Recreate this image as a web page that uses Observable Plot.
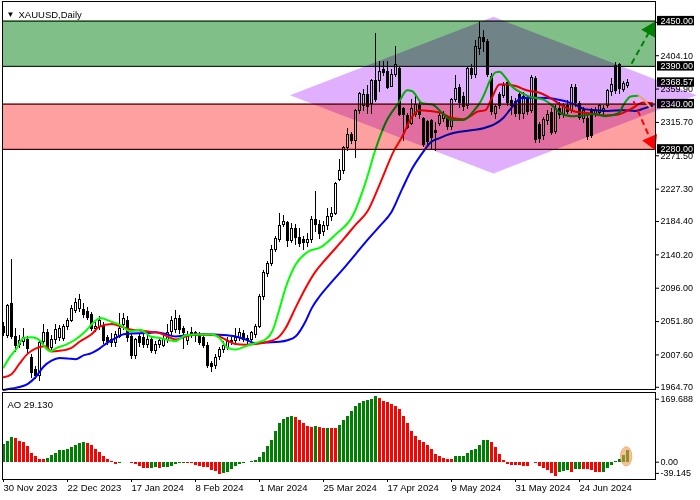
<!DOCTYPE html>
<html><head><meta charset="utf-8">
<script src="https://cdn.jsdelivr.net/npm/d3@7"></script>
<script src="https://cdn.jsdelivr.net/npm/@observablehq/plot@0.6"></script>
<style>
body{margin:0;background:#fff;width:700px;height:500px;overflow:hidden}
#chart svg{display:block}
</style></head><body><div id="chart"></div>
<script>
// ---------- DATA (bar index 0 = 30 Nov 2023) ----------
const opens  = [2044,2033,2075,2031,2021,2025,2027,2003,1988,1980,2025,2036,2017,2027,2030,2029,2045,2052,2066,2069,2067,2065,2060,2042,2044,2046,2030,2027,2024,2032,2047,2052,2031,2006,2032,2030,2021,2028,2013,2021,2020,2027,2038,2040,2055,2042,2026,2035,2036,2033,2030,2020,1995,1993,2005,2014,2017,2026,2026,2030,2035,2029,2028,2034,2045,2084,2115,2128,2147,2160,2180,2182,2159,2175,2163,2160,2156,2160,2187,2180,2170,2178,2190,2195,2240,2251,2282,2299,2291,2331,2338,2352,2340,2371,2371,2385,2383,2363,2379,2387,2334,2324,2313,2326,2338,2320,2316,2318,2305,2313,2320,2322,2309,2346,2361,2350,2337,2386,2378,2413,2428,2422,2376,2327,2352,2351,2368,2344,2343,2352,2327,2348,2331,2373,2312,2298,2318,2328,2303,2334,2326,2337,2331,2361,2340,2320,2320,2331,2326,2328,2330,2338,2356,2390,2392,2359,2364];
const highs  = [2050,2074,2134,2042,2034,2042,2032,2008,1992,2027,2048,2041,2033,2048,2046,2048,2056,2073,2082,2088,2076,2070,2064,2050,2058,2050,2033,2036,2039,2062,2062,2058,2036,2030,2036,2035,2034,2031,2026,2030,2033,2048,2058,2066,2060,2045,2038,2044,2039,2037,2035,2024,1999,2008,2018,2025,2031,2031,2042,2042,2040,2034,2038,2048,2088,2120,2132,2152,2165,2195,2193,2185,2182,2180,2175,2165,2168,2191,2224,2186,2185,2202,2203,2236,2266,2284,2308,2302,2333,2356,2360,2364,2373,2433,2397,2397,2397,2386,2417,2388,2336,2328,2346,2351,2345,2322,2318,2320,2315,2328,2330,2325,2348,2378,2366,2356,2388,2392,2424,2450,2437,2426,2380,2340,2356,2368,2373,2350,2348,2357,2355,2352,2378,2376,2316,2322,2331,2334,2338,2342,2341,2345,2366,2366,2344,2335,2323,2334,2336,2340,2338,2360,2374,2395,2394,2370,2372];
const lows   = [2032,2030,2028,2011,2016,2019,2010,1977,1975,1972,2022,2014,2012,2022,2025,2025,2040,2050,2062,2064,2056,2053,2038,2037,2040,2022,2020,2018,2017,2029,2040,2024,2002,2001,2018,2016,2016,2009,2008,2016,2017,2023,2033,2036,2035,2015,2020,2030,2024,2020,2016,1990,1984,1988,2000,2010,2014,2020,2022,2026,2024,2022,2025,2030,2043,2080,2110,2125,2143,2157,2176,2150,2155,2152,2150,2146,2150,2155,2170,2160,2165,2172,2185,2192,2237,2247,2277,2286,2268,2326,2330,2326,2326,2342,2355,2377,2359,2362,2375,2324,2291,2306,2311,2322,2320,2283,2284,2278,2277,2310,2315,2305,2305,2342,2334,2330,2333,2372,2374,2405,2408,2375,2325,2320,2333,2347,2337,2325,2322,2318,2320,2325,2328,2288,2288,2292,2312,2298,2300,2320,2321,2326,2328,2336,2318,2314,2292,2294,2322,2324,2325,2334,2350,2353,2353,2355,2361];
const closes = [2036,2072,2031,2020,2026,2030,2015,1983,1980,2024,2036,2017,2028,2040,2042,2045,2052,2068,2077,2080,2060,2057,2042,2045,2052,2026,2025,2024,2034,2042,2055,2030,2006,2027,2023,2021,2028,2013,2021,2026,2028,2037,2052,2055,2040,2036,2031,2037,2033,2024,2020,1993,1992,2004,2014,2020,2025,2024,2030,2036,2028,2027,2036,2044,2084,2116,2128,2147,2161,2179,2184,2159,2175,2162,2155,2156,2160,2186,2180,2168,2178,2190,2195,2234,2252,2282,2299,2291,2331,2353,2352,2336,2371,2345,2383,2381,2362,2379,2392,2326,2326,2308,2333,2339,2325,2286,2290,2295,2302,2324,2326,2309,2346,2360,2342,2336,2386,2378,2416,2427,2422,2379,2330,2336,2338,2364,2341,2337,2327,2327,2349,2330,2375,2293,2294,2319,2326,2302,2333,2326,2337,2330,2362,2342,2322,2331,2296,2298,2331,2337,2334,2357,2365,2357,2360,2366,2368.57];

const aoValues = [45,52,63,60,53,51,40,22,14,7, 6.5,9,16,23,30,31,33,38,43,49, 51,49,42,33,24,15,7,2,-5,-4,
  -2,-1,-4,-7,-10,-15,-16,-15,-14,-15, -14.5,-14,-12,-6,-3,-2.5,-4,-4.5,-9,-11, -13,-14,-21,-24,-31,-28,-26,-19,-10,-7,
  -4,-1,2,4,11,26,40,57,78,100, 111,115,117,115,107,99,92,90,92,89, 87,87.5,86,85.5,95,107,118,131,144,150,
  156,159,161,169.688,163,156,153,148,143,135, 117,100,80,67,56,50,43,33,20,15, 10,8,7,14,14.5,15,22,29,33,43,
  56,57,51,39,21,4,-5,-8,-9,-9.5, -11,-11.5,-2,-4,-12,-17,-22,-30,-36,-27, -24,-21,-26,-19,-18.5,-19,-19.5,-22,-26,-27,
  -26,-15,-9,0.5,7,17,29.13];

// Alligator lines: [bar index, price]
const jawLine = [[0,1961],[2,1963],[4,1965],[6,1969],[8,1978],[10,1992],[12,2000],[14,2003.5],[16,2003],[18,2002],[20,2007],[22,2010],[24,2016],[26,2024],[28,2030],[30,2035],[32,2036],[36,2036.5],[38,2037.5],[40,2036],[43,2032],[46,2034],[50,2035],[55,2034],[58,2032],[60.5,2028],[63,2023],[65.5,2024],[69,2025],[71,2027],[73,2032],[75.5,2052],[77,2069],[79,2085],[82,2104],[85,2122],[88,2141],[91,2160],[94,2178],[97,2197],[99.7,2228],[102,2253],[104.7,2275],[106.75,2289],[109,2295],[112,2301],[115,2304],[118,2306],[120,2308],[123,2314],[125,2322],[127,2335],[129.5,2348],[132,2348.5],[136,2348],[139,2345.5],[141,2343],[143,2339],[145.5,2333],[148,2332],[151,2331],[155,2332],[158,2331],[160,2334],[162.2,2338]];
const teethLine = [[0,1978],[2,1982],[4,1996],[6,2009],[8,2016],[10.5,2019],[12,2012],[14,2013],[17,2017],[19,2025],[22,2035],[24,2045],[27,2048.5],[29,2046],[32,2041],[34,2040],[37,2038],[39,2036.5],[41,2032],[43,2028],[45.5,2032],[48,2034.6],[53,2033.6],[55.5,2028],[58,2022],[60.5,2021],[63,2022],[66,2025],[68.5,2030],[70.5,2043],[73,2070],[75.5,2096],[78,2118],[79.5,2128],[82,2143],[85,2161],[88,2180],[91,2198],[94,2233],[97.6,2278],[99.7,2297],[102,2322],[104,2332],[106.5,2331],[109.5,2328],[112,2322],[115,2320],[117,2325],[118.5,2330],[120.5,2332],[122,2347],[124,2366],[126,2366],[128,2364],[131,2358],[134,2355],[136.75,2348],[140,2337],[143,2330],[146.5,2328],[150,2325],[153.5,2326],[157,2334],[160,2342],[162.2,2341]];
const lipsLine = [[0,1991],[1.75,2006],[3.4,2017],[5,2030],[7,2031],[8,2030],[9.25,2026],[10.5,2017],[11.75,2012.4],[13,2016],[15.5,2021],[18,2028],[20.5,2039],[23,2053],[24.25,2056.6],[26.75,2052],[29.25,2047],[31.75,2039],[34.25,2041],[35.5,2037],[36.75,2032],[39,2030],[43,2026],[45.5,2033.6],[48,2034.6],[52,2034.6],[54,2030],[56,2017],[58,2014.7],[60.5,2019],[63,2023.4],[65.5,2028],[67.2,2039],[68.8,2065],[70.5,2096],[73,2127],[76.3,2145],[79.25,2150],[83,2167],[87.4,2193],[90.5,2236],[93,2280],[95.5,2315],[98.8,2342],[100.9,2358.5],[102.2,2357],[104.7,2341],[107.2,2339.5],[109.5,2329],[112,2319],[115,2319],[117.4,2330],[119.25,2343],[120.5,2357],[121.5,2370],[123,2382],[124,2383],[125.5,2375],[127,2364],[129.5,2355],[132,2349],[135,2346],[137,2339],[139,2329],[142,2324],[145,2325],[148,2327],[150.5,2324],[153.8,2328],[155,2339],[156.8,2350],[158.8,2351]];
const tailLine = [[158.8,2351],[160.3,2345],[161.75,2335]];

const xTickIdx = [0,16,32,48,64,80,96,112,128,144];
const xTickLabels = ["30 Nov 2023","22 Dec 2023","17 Jan 2024","8 Feb 2024","1 Mar 2024","25 Mar 2024","17 Apr 2024","9 May 2024","31 May 2024","24 Jun 2024"];
const priceTicks = [1964.70,2007.60,2051.80,2096.00,2140.20,2184.40,2227.30,2271.50,2315.70,2359.90,2404.10,2448.30];
const aoTopTick = [169.688];
const aoZeroTick = [0];
const aoMin = -39.145, aoMax = 169.688;

const zoneLow  = [2390, 2280];
const zoneHigh = [2450, 2340];
const levelLabels = [2450, 2390, 2340, 2280];
const lastPrice = 2368.57;
const diamond = [{i:71.75, lo:2351, hi:2351},{i:122.6, lo:2247.5, hi:2455},{i:173.4, lo:2351, hi:2351}];
const arrows = [{x1:157, y1:2393.6, x2:161.75, y2:2438.6},{x1:157.5, y1:2344, x2:162, y2:2290.3}];
const aoHighlight = {i1:154.4, i2:157.2, v1:-11, v2:38.6};

// ---------- LAYOUT / STYLE ----------
const XDOM = [-0.25, 163];
const PRICE_DOM = [1964.7, 2450];
const PRICE_RANGE = [386.8, 20.6];
const PX_PER_BAR = (655 - 2) / (XDOM[1] - XDOM[0]);
const PX_PER_UNIT = (PRICE_RANGE[0] - PRICE_RANGE[1]) / (PRICE_DOM[1] - PRICE_DOM[0]);
const BOXH = 4.7 / PX_PER_UNIT;
const ZONE_FILLS = ["#80C088", "#FFA0A0"];
const ARROW_COLORS = ["#008000", "#FF0000"];
const font = {fontFamily: "'Liberation Sans', Arial, sans-serif", fontSize: "9.5px", background: "#fff", color: "#000", overflow: "visible"};

const candles = opens.map((o, i) => ({i, o, h: highs[i], l: lows[i], c: closes[i]}));
const aoData = aoValues.map((v, i) => ({i, v, up: i === 0 || v > aoValues[i - 1]}));
const zones = zoneLow.map((lo, k) => ({lo, hi: zoneHigh[k]}));
const boxes = levelLabels.concat([lastPrice]);
const headRot = arrows.map(a => Math.atan2((a.x2 - a.x1) * PX_PER_BAR, (a.y2 - a.y1) * PX_PER_UNIT) * 180 / Math.PI);

const main = Plot.plot({
  width: 700, height: 391, marginTop: 1, marginBottom: 2, marginLeft: 2, marginRight: 45,
  style: font,
  x: {domain: XDOM, axis: null, label: null},
  y: {domain: PRICE_DOM, range: PRICE_RANGE, axis: null, label: null},
  marks: [
    Plot.ruleX(candles, {x: "i", y1: "l", y2: "h", stroke: "#000", strokeWidth: 1, shapeRendering: "crispEdges"}),
    Plot.rect(candles, {x1: d => d.i - 0.25, x2: d => d.i + 0.25, y1: "o", y2: "c",
      fill: d => d.c >= d.o ? "#fff" : "#000", stroke: "#000", strokeWidth: 1, shapeRendering: "crispEdges"}),
    Plot.line(jawLine, {x: d => d[0], y: d => d[1], stroke: "#0000FF", strokeWidth: 2, curve: "monotone-x"}),
    Plot.line(teethLine, {x: d => d[0], y: d => d[1], stroke: "#FF0000", strokeWidth: 2, curve: "monotone-x"}),
    Plot.line(lipsLine, {x: d => d[0], y: d => d[1], stroke: "#00FF00", strokeWidth: 2, curve: "monotone-x"}),
    Plot.rect(zones, {y1: "lo", y2: "hi", fill: (d, k) => ZONE_FILLS[k], mixBlendMode: "multiply"}),
    Plot.ruleY(zoneHigh.slice(0,1).concat(zoneLow.slice(0,1)), {stroke: "#0a2a0a", strokeWidth: 1.2}),
    Plot.ruleY(zoneHigh.slice(1).concat(zoneLow.slice(1)), {stroke: "#4a0000", strokeWidth: 1.2}),
    Plot.axisY({anchor: "right", ticks: priceTicks, tickFormat: d3.format(".2f"), tickSize: 3, tickPadding: 2, fontSize: 9, label: null}),
    Plot.rect(boxes, {x1: () => XDOM[1], x2: () => XDOM[1], y1: d => d - BOXH, y2: d => d + BOXH,
      insetLeft: 2, insetRight: -39, fill: "#000"}),
    Plot.text(boxes, {x: () => XDOM[1], y: d => d, text: d => d3.format(".2f")(d), textAnchor: "start", dx: 5, fill: "#fff", fontSize: 9}),
    Plot.areaY(diamond, {x: "i", y1: "lo", y2: "hi", fill: "#E0B0FF", mixBlendMode: "multiply"}),
    Plot.line(tailLine, {x: d => d[0], y: d => d[1], stroke: "#F2A070", strokeWidth: 2}),
    Plot.link(arrows, {x1: "x1", y1: "y1", x2: "x2", y2: "y2", stroke: (d, k) => ARROW_COLORS[k], strokeWidth: 2, strokeDasharray: "6,4"}),
    Plot.dot(arrows, {x: "x2", y: "y2", symbol: "triangle", r: 6, fill: (d, k) => ARROW_COLORS[k], stroke: "none", rotate: (d, k) => headRot[k]}),
    Plot.frame({stroke: "#000", shapeRendering: "crispEdges"}),
    Plot.text(["▼"], {frameAnchor: "top-left", dx: 8, dy: 9.5, fontSize: 8, textAnchor: "middle"}),
    Plot.text(["XAUUSD,Daily"], {frameAnchor: "top-left", dx: 16, dy: 9.5, textAnchor: "start"})
  ]
});

const aoPlot = Plot.plot({
  width: 700, height: 109, marginTop: 1, marginBottom: 21, marginLeft: 2, marginRight: 45,
  style: font,
  x: {domain: XDOM, axis: null, label: null},
  y: {domain: [aoMin, aoMax], range: [85.9, 4.7], axis: null, label: null},
  marks: [
    Plot.rect(aoData, {x1: d => d.i - 0.375, x2: d => d.i + 0.375, y1: d => 0, y2: "v",
      fill: d => d.up ? "#008000" : "#FF0000", shapeRendering: "crispEdges"}),
    Plot.axisY({anchor: "right", ticks: aoTopTick, tickFormat: d3.format(".3f"), tickSize: 3, tickPadding: 2, dy: 3, fontSize: 9, label: null}),
    Plot.axisY({anchor: "right", ticks: aoZeroTick, tickFormat: d3.format(".2f"), tickSize: 3, tickPadding: 2, fontSize: 9, label: null}),
    Plot.axisY({anchor: "right", ticks: [aoMin], tickFormat: d => String(d), tickSize: 3, tickPadding: 2, dy: -4, fontSize: 9, label: null}),
    Plot.axisX({anchor: "bottom", ticks: xTickIdx, tickFormat: d => xTickLabels[xTickIdx.indexOf(d)], tickSize: 3, tickPadding: 2, textAnchor: "start", label: null}),
    Plot.frame({stroke: "#000", shapeRendering: "crispEdges"}),
    Plot.text([`AO ${aoValues[aoValues.length - 1].toFixed(3)}`], {frameAnchor: "top-left", dx: 5, dy: 9, textAnchor: "start"})
  ]
});

// highlight ellipse around the latest AO bars
const sx = aoPlot.scale("x"), sy = aoPlot.scale("y");
const ex1 = sx.apply(aoHighlight.i1), ex2 = sx.apply(aoHighlight.i2);
const ey1 = sy.apply(aoHighlight.v1), ey2 = sy.apply(aoHighlight.v2);
d3.select(aoPlot).append("ellipse")
  .attr("cx", (ex1 + ex2) / 2).attr("cy", (ey1 + ey2) / 2)
  .attr("rx", Math.abs(ex2 - ex1) / 2).attr("ry", Math.abs(ey2 - ey1) / 2)
  .attr("fill", "#EE9A4D").attr("fill-opacity", 0.6)
  .attr("stroke", "#F0B080").attr("stroke-width", 1);

document.getElementById("chart").append(main, aoPlot);
</script>
</body></html>
